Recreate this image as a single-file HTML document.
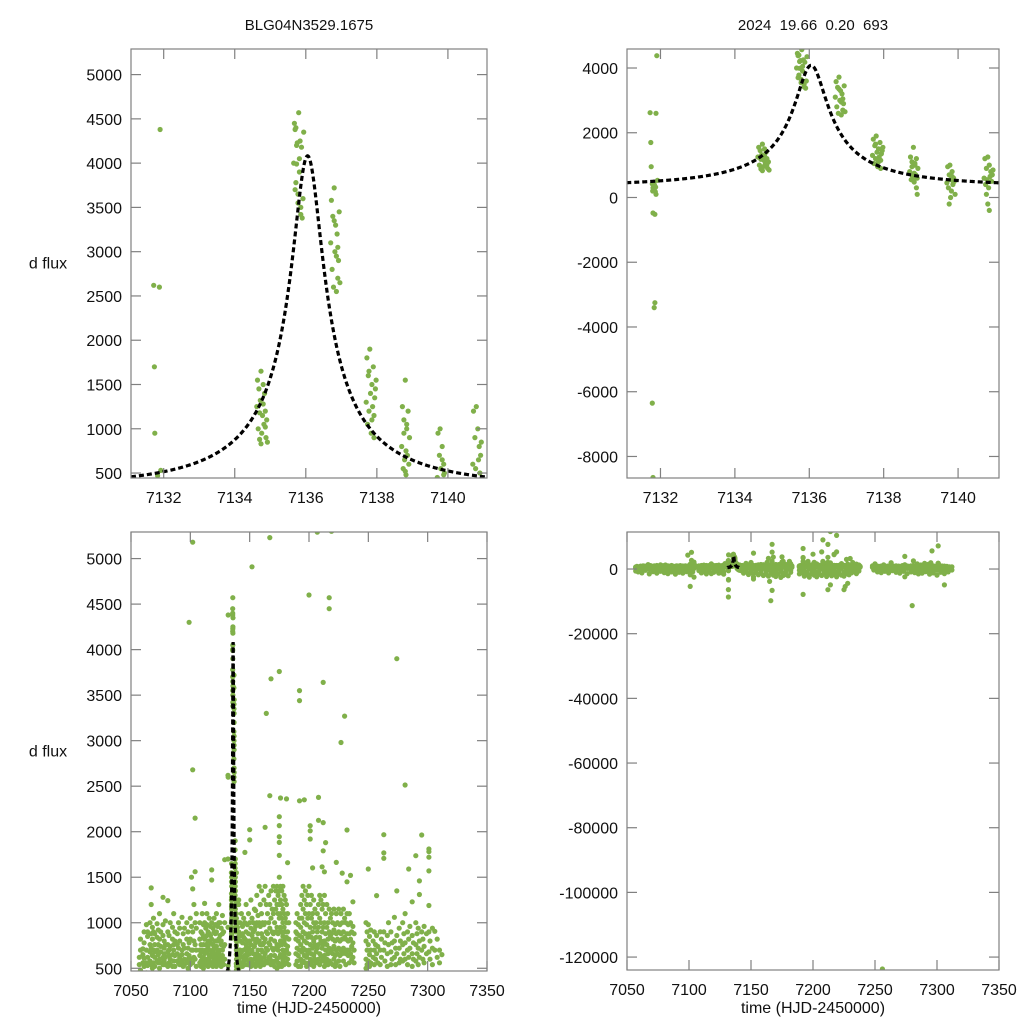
<!DOCTYPE html>
<html><head><meta charset="utf-8"><style>
html,body{margin:0;padding:0;background:#fff;overflow:hidden;width:1024px;height:1024px;}
svg{display:block;font-family:"Liberation Sans",Arial,sans-serif;}
</style></head><body>
<svg id="chart" width="1024" height="1024" viewBox="0 0 1024 1024" xmlns="http://www.w3.org/2000/svg"></svg>
<script>
// ---------- data ----------
const titleLeft = "BLG04N3529.1675";
const titleRight = "2024  19.66  0.20  693";
// model parameters (Paczynski fit) and plotted model window
const modelT0 = 7136.05, modelU0 = 0.1, modelTE = 4.4, modelFs = 413, modelFb = 350;
const modelWindow = [7131.08, 7141.1];
// event-window observations [time, flux]
const eventObs = [
[7131.72,2620],[7131.74,1700],[7131.75,950],[7131.78,-6350],[7131.80,-8650],[7131.83,-3400],[7131.85,-3250],[7131.88,2600],[7131.90,4380],[7131.92,530],[7131.78,420],[7131.80,300],[7131.82,250],[7131.84,380],[7131.86,180],[7131.88,100],[7131.80,-480],[7131.85,-520],[7131.83,470],[7131.79,200],[7131.87,320],
[7134.62,1250],[7134.64,1550],[7134.66,1000],[7134.68,1450],[7134.70,880],[7134.72,1320],[7134.74,1650],[7134.76,950],[7134.78,1150],[7134.80,1500],[7134.82,1050],[7134.84,1400],[7134.86,1200],[7134.88,900],[7134.90,1100],[7134.92,850],[7134.74,830],[7134.70,1180],[7134.80,1280],[7134.86,1020],
[7135.66,4000],[7135.68,4450],[7135.70,3700],[7135.72,4400],[7135.74,3990],[7135.76,4230],[7135.78,3550],[7135.80,4570],[7135.82,3900],[7135.84,4250],[7135.86,3420],[7135.88,4180],[7135.70,4380],[7135.72,3780],[7135.74,4200],[7135.78,3650],[7135.82,4050],[7135.86,3500],[7135.90,3380],[7135.92,3600],[7135.94,4350],
[7136.70,3100],[7136.72,3580],[7136.74,2800],[7136.76,3400],[7136.78,2600],[7136.80,3720],[7136.82,3000],[7136.84,3300],[7136.86,2550],[7136.88,3200],[7136.90,2700],[7136.92,2900],[7136.94,3450],[7136.96,2650],[7136.80,3350],[7136.86,2950],[7136.90,3050],
[7137.70,1300],[7137.72,1800],[7137.74,1050],[7137.76,1600],[7137.78,1200],[7137.80,1900],[7137.82,1400],[7137.84,950],[7137.86,1500],[7137.88,1250],[7137.90,1700],[7137.92,1150],[7137.94,1350],[7137.96,1450],[7137.86,1100],[7137.92,900],[7137.78,1650],[7137.98,1550],
[7138.70,800],[7138.72,1250],[7138.74,550],[7138.76,1100],[7138.78,650],[7138.80,1550],[7138.82,480],[7138.84,1000],[7138.86,700],[7138.88,1200],[7138.90,600],[7138.92,900],[7138.80,520],[7138.84,1050],[7138.88,300],[7138.90,100],[7138.76,950],[7138.82,750],
[7139.70,450],[7139.72,950],[7139.74,300],[7139.76,700],[7139.78,1000],[7139.80,550],[7139.82,200],[7139.84,800],[7139.86,400],[7139.88,600],[7139.90,500],[7139.92,100],[7139.80,0],[7139.76,-200],[7139.84,650],[7139.88,480],
[7140.70,600],[7140.72,1200],[7140.74,400],[7140.76,900],[7140.78,550],[7140.80,1250],[7140.82,300],[7140.84,1000],[7140.86,650],[7140.88,800],[7140.90,500],[7140.92,700],[7140.76,100],[7140.80,-200],[7140.84,-400],[7140.94,850]
];
// full-season nightly observations: [time, flux, flux, ...]
const nightlyObs = [
[7057,620,540],[7058,700,480,820],[7060,713,560,650],[7061,900,610,520,780],[7063,980,700,560,450],[7064,850,620,900,530],[7066,1000,760,580,680],[7067,1383,1200,720,540,880],[7068,950,640,500,820],[7069,1050,700,560,900],[7070,880,620,760,520,680],[7072,990,700,580,840],[7073,760,560,650,920],[7074,1100,820,600,500],[7075,680,900,560,740],[7077,1280,860,620,540,980],[7078,720,580,660,800],[7079,1020,760,540,620],[7081,1243,900,680,520,760],[7082,640,860,560,700],[7083,1000,740,600,540],[7085,820,650,520,950],[7086,1100,700,580,760],[7087,900,640,520,800],[7089,760,580,880,660],[7090,1000,720,560],[7091,800,620,540,940],[7093,1060,700,580,650],[7094,880,760,520],[7095,940,600,720,540],[7097,820,660,560,1000],[7098,900,720,600,500],[7099,4300,780,640,560],[7100,1050,820,600,540,-300],[7101,960,700,560,-5380,1500],[7102,5180,2680,1372,900,700,560],[7103,1200,800,620,300,-900],[7104,2150,1561,1000,760,600],[7105,940,700,520,1100],
[7108,1000,820,640,560,700],[7109,900,760,580,520,680],[7110,1100,880,700,600,540],[7111,980,760,620,500,840],[7112,1213,1000,820,660,560],[7113,940,760,600,540,700],[7114,1100,860,680,560,980],[7115,900,740,600,520,800],[7116,1050,880,700,580,640],[7117,960,780,620,540,860],[7118,1580,1470,1000,820,660,560],[7119,940,760,620,520,700],[7120,1050,900,720,580,640],[7121,980,800,660,540,880],[7122,1100,900,740,600,520],[7123,960,800,640,560,700],[7124,1200,1000,820,660,540],[7125,1000,860,700,580,620],[7126,940,760,620,520,800],[7127,1080,880,700,560,640],[7128,900,740,600,540],[7129,1693,1000,760,600],
[7142,1000,800,640,540,700],[7143,1100,860,680,560],[7144,960,780,620,520,880],[7145,1050,840,700,580],[7146,1773,1000,820,640,540],[7147,1200,900,720,600,760],[7148,980,800,640,540,680],[7149,1100,880,720,580],[7150,2022,1910,1000,800,660,560],[7151,1250,940,760,600,520],[7152,4910,1050,860,700,560,-2400,-3100],[7153,1000,820,660,540,900],[7154,1150,920,740,600],[7155,1133,960,780,620,520],[7156,1300,1000,820,660,560],[7157,1080,880,700,580,640],[7158,1400,1000,800,640,540],[7159,1200,960,760,620,520],[7160,1350,1100,880,700,580],[7161,1000,840,680,560,760],[7162,1250,980,780,620,540],[7163,2048,1400,1000,820,660],[7164,3300,1200,900,720,580],[7165,1100,880,700,560,-3830],[7166,1300,1000,780,620,-9800],[7167,7660,5230,2395,1200,940,760,600,-6600],[7168,3680,1350,1050,820,640,540],[7169,1150,900,720,580],[7170,1400,1100,880,700,560],[7171,1250,1000,800,640,520],[7172,1350,1150,900,720,580],[7173,1400,1200,950,760,600,500],[7174,1300,1100,880,700,560],[7175,3760,2165,2067,1945,1883,1740,1500,1350,1200,1050,900,750,620,520],[7176,2370,1400,1250,1100,950,800,650,540],[7177,1350,1200,1050,900,760,620,520],[7178,1400,1150,1000,850,700,580],[7179,1300,1100,950,800,660,540],[7180,1250,1050,900,760,620],[7181,2360,1200,1000,840,700,560],[7182,1660,1100,900,740,600],[7183,1000,820,660,540],
[7189,1000,820,660,540,900],[7190,1100,880,720,580],[7191,980,800,640,520],[7192,6350,3550,3440,2340,1050,860,700,-7860],[7193,1200,950,760,600,520],[7194,1300,1050,840,680,560],[7195,1400,1150,900,720,580],[7196,2350,1250,1000,800,640,-1800],[7197,1350,1100,880,700,560],[7198,1200,980,780,620,520],[7199,1300,1050,840,660],[7200,4600,1400,1100,880,700,560],[7201,2066,2010,1920,1200,950,760,600],[7202,1300,1050,840,660,540],[7203,1602,1100,900,720,580],[7204,1250,1000,800,640,520],[7205,1150,950,760,600],[7206,1000,840,680,560],[7207,5290,1100,900,720,580],[7208,9000,2377,2125,1200,950,760,600],[7209,1300,1050,840,660,540],[7210,1250,1000,800,640],[7211,1615,1150,900,720,580],[7212,7600,3640,2100,1790,1200,950,760,600,-6400],[7213,1560,1300,1000,800,640,520],[7214,11600,1880,1100,880,700,560,-4900],[7215,1200,950,760,600],[7216,1000,820,660,540],[7217,4570,4450,1150,900,720,580],[7218,1050,860,700,560],[7219,10400,5300,1100,880,700],[7220,1000,820,660,540],[7221,1150,920,740,600],[7222,980,800,640,520],[7223,1663,1100,880,700,560],[7224,1000,820,660],[7225,1150,900,720,580,-6400],[7226,980,800,640,520,-5400],[7227,2980,1100,880,700],[7228,1545,1000,820,660,-4400],[7229,1150,900,720,580],[7230,3270,1050,840,680],[7231,1000,820,660,540],[7232,2019,1450,1100,880,700],[7233,980,800,640],[7234,1100,880,700,560],[7235,1520,1000,820,660],[7236,900,740,600],[7237,1230,960,780,620],[7238,880,700,560],
[7248,1000,800,600,500],[7249,900,700,540],[7250,1590,980,760,580],[7251,850,650,520],[7252,920,700,560],[7254,800,620],[7255,900,700,540],[7256,-123700,760,600],[7257,1298,860,660],[7258,740,560],[7260,900,700,540],[7261,820,620],[7263,1967,1767,1708,900,700],[7264,780,580],[7266,860,660,520],[7267,1000,760],[7269,900,680,540],[7270,780,600],[7272,1060,800,620],[7273,720,540],[7274,3900,1350,860,660,-2400],[7276,940,720,560],[7277,800,600],[7279,1000,760,580],[7280,880,660,-11300],[7281,2513,1100,780,600],[7283,900,700,540],[7284,1590,820,620],[7285,960,720],[7287,1230,860,660,520],[7288,780,600],[7290,1737,1000,760,580],[7291,880,660],[7292,940,720,540],[7293,1460,1310,800,620],[7295,1964,900,700],[7296,5600,820,600],[7297,960,740,560],[7299,880,660],[7301,7150,1810,1780,1720,1570,1190,900,680],[7302,800,600],[7304,940,720,540],[7306,906,-4900,700],[7308,820,620],[7310,700,560],[7312,650]
];
// faint / negative nightly observations (below the left-panel range)
const faintObs = [
[7057,200,-600],[7059,-900,300],[7062,100,-1200],[7065,-400,350],[7068,-1500,0],[7071,250,-800],[7074,-300,-1300],[7077,400,-700],[7080,-1100,150],[7083,-200,-1400],[7086,300,-900],[7089,-600,-1600],[7092,200,-1000],[7095,-1300,-300],[7098,100,-800],[7101,-1800,-1200],[7104,-2500,200],
[7108,-500,300],[7110,-1200,100],[7112,-300,-900],[7114,250,-1500],[7116,-700,0],[7118,-1400,300],[7120,-200,-1000],[7122,150,-600],[7124,-1300,-300],[7126,200,-1100],[7128,-800,-1600],
[7142,-500,200],[7144,-1300,-200],[7146,100,-900],[7148,-1700,300],[7150,-600,-1200],[7152,200,-1500],[7154,-1000,-300],[7156,-1800,100],[7158,-400,-1300],[7160,-2000,300],[7162,-700,-1600],[7164,-2200,-200],[7166,-1200,400],[7168,-1900,-500],[7170,-900,-2300],[7172,-1500,200],[7174,-2600,-600],[7176,-1300,-2000],[7178,-800,-1700],[7180,-2100,100],[7182,-1000,-400],
[7189,-400,-1500],[7191,-1200,200],[7193,-2200,-700],[7195,-1000,-1800],[7197,-2500,100],[7199,-600,-1400],[7201,-1900,-300],[7203,-1100,-2400],[7205,-700,-1600],[7207,-2000,200],[7209,-1300,-500],[7211,-2300,-900],[7213,-1500,100],[7215,-800,-2100],[7217,-1700,-400],[7219,-2400,-1000],[7221,-600,-1500],[7223,-1900,200],[7225,-1000,-2200],[7227,-500,-1400],[7229,-1800,-700],[7231,-1200,100],[7233,-300,-900],[7235,-1400,-200],[7237,-600,100],
[7249,-300,200],[7252,-900,100],[7255,-400,-1100],[7258,200,-700],[7261,-1200,-100],[7264,-500,300],[7267,-1000,-200],[7270,100,-1300],[7273,-700,-200],[7276,-1400,200],[7279,-400,-900],[7282,-1100,0],[7285,-300,-1500],[7288,-1300,-500],[7291,-800,200],[7294,-1600,-300],[7297,-600,-1200],[7300,-1900,-400],[7303,-1000,100],[7306,-500,-1400],[7309,-900,200],[7312,-300]
];
// axis tick values
const ticksXZoom = [7132,7134,7136,7138,7140];
const ticksXFull = [7050,7100,7150,7200,7250,7300,7350];
const ticksYLeft = [500,1000,1500,2000,2500,3000,3500,4000,4500,5000];
const ticksYTopRight = [-8000,-6000,-4000,-2000,0,2000,4000];
const ticksYBotRight = [-120000,-100000,-80000,-60000,-40000,-20000,0];

// ---------- drawing ----------
const NS = "http://www.w3.org/2000/svg";
const svg = document.getElementById("chart");
function mk(tag, attrs, parent){ const e=document.createElementNS(NS,tag); for(const k in attrs) e.setAttribute(k,attrs[k]); (parent||svg).appendChild(e); return e; }

const allObs = [];
eventObs.forEach(p=>allObs.push([p[0],p[1]]));
nightlyObs.forEach(r=>{ for(let i=1;i<r.length;i++) allObs.push([r[0],r[i]]); });
faintObs.forEach(r=>{ for(let i=1;i<r.length;i++) allObs.push([r[0],r[i]]); });

function modelFlux(t){
  const tau=(t-modelT0)/modelTE; const u=Math.sqrt(modelU0*modelU0+tau*tau);
  const A=(u*u+2)/(u*Math.sqrt(u*u+4)); return modelFb+modelFs*(A-1);
}

const panels = [
 {name:"top-left", L:131,R:487,T:49,B:478, x0:7131.08,x1:7141.1, y0:444,y1:5289, xt:ticksXZoom, yt:ticksYLeft, yl:true, xlab:false, title:titleLeft},
 {name:"top-right", L:627,R:999,T:49,B:478, x0:7131.1,x1:7141.1, y0:-8665,y1:4587, xt:ticksXZoom, yt:ticksYTopRight, yl:false, xlab:false, title:titleRight},
 {name:"bottom-left", L:131,R:487,T:532,B:971, x0:7050,x1:7350, y0:470,y1:5292, xt:ticksXFull, yt:ticksYLeft, yl:true, xlab:true},
 {name:"bottom-right", L:627,R:999,T:532,B:970, x0:7050,x1:7350, y0:-124000,y1:11450, xt:ticksXFull, yt:ticksYBotRight, yl:false, xlab:true}
];

panels.forEach((p,pi)=>{
  const g = mk("g",{});
  
  
  const sx = v=>p.L+(v-p.x0)/(p.x1-p.x0)*(p.R-p.L);
  const sy = v=>p.B-(v-p.y0)/(p.y1-p.y0)*(p.B-p.T);
  const cp = mk("clipPath",{id:"clip"+pi},g);
  mk("rect",{x:p.L,y:p.T,width:p.R-p.L,height:p.B-p.T},cp);
  const pg = mk("g",{"clip-path":"url(#clip"+pi+")"},g);
  
  
  allObs.forEach(o=>{
    const cx=sx(o[0]), cy=sy(o[1]);
    if(cx<p.L-3||cx>p.R+3||cy<p.T-3||cy>p.B+3) return;
    const c = mk("circle",{cx:cx.toFixed(1),cy:cy.toFixed(1),r:2.6,fill:"#80b04a"},pg);
    
    
  });
  // model (only over the event window, clamped to panel)
  let d="";
  const step=(modelWindow[1]-modelWindow[0])/1000;
  for(let t=modelWindow[0];t<=modelWindow[1];t+=step){
    const yy=Math.min(p.B+2,Math.max(p.T-2,sy(modelFlux(t))));
    d+=(d?"L":"M")+sx(t).toFixed(2)+","+yy.toFixed(2);
  }
  const m = mk("path",{d:d,fill:"none",stroke:"#000","stroke-width":3.2,"stroke-dasharray":"5,3","clip-path":"url(#clip"+pi+")"},g);
  
  
  const f = mk("rect",{x:p.L,y:p.T,width:p.R-p.L,height:p.B-p.T,fill:"none",stroke:"#808080","stroke-width":1.2},g);
  
  
  p.xt.forEach(v=>{
    const x=sx(v);
    mk("line",{x1:x,y1:p.B,x2:x,y2:p.B-10,stroke:"#808080","stroke-width":1.2},g);
    mk("line",{x1:x,y1:p.T,x2:x,y2:p.T+10,stroke:"#808080","stroke-width":1.2},g);
    const tx = mk("text",{x:x,y:p.B+25,"text-anchor":"middle","font-size":16,fill:"#111"},g);
    tx.textContent=v;
    
    
  });
  p.yt.forEach(v=>{
    const y=sy(v);
    mk("line",{x1:p.L,y1:y,x2:p.L+10,y2:y,stroke:"#808080","stroke-width":1.2},g);
    mk("line",{x1:p.R,y1:y,x2:p.R-10,y2:y,stroke:"#808080","stroke-width":1.2},g);
    const ty = mk("text",{x:p.L-9,y:y+6,"text-anchor":"end","font-size":16,fill:"#111"},g);
    ty.textContent=v;
    
    
  });
  if(p.title){
    const tt = mk("text",{x:(p.L+p.R)/2,y:30,"text-anchor":"middle","font-size":15,fill:"#111","xml:space":"preserve",style:"white-space:pre"},g);
    tt.textContent=p.title;
    
    
  }
  if(p.yl){
    const yl = mk("text",{x:48,y:(p.T+p.B)/2+5,"text-anchor":"middle","font-size":16,fill:"#111"},g);
    yl.textContent="d flux";
    
    
  }
  if(p.xlab){
    const xl = mk("text",{x:(p.L+p.R)/2,y:1013,"text-anchor":"middle","font-size":16,fill:"#111"},g);
    xl.textContent="time (HJD-2450000)";
    
    
  }
});
</script>
</body></html>
